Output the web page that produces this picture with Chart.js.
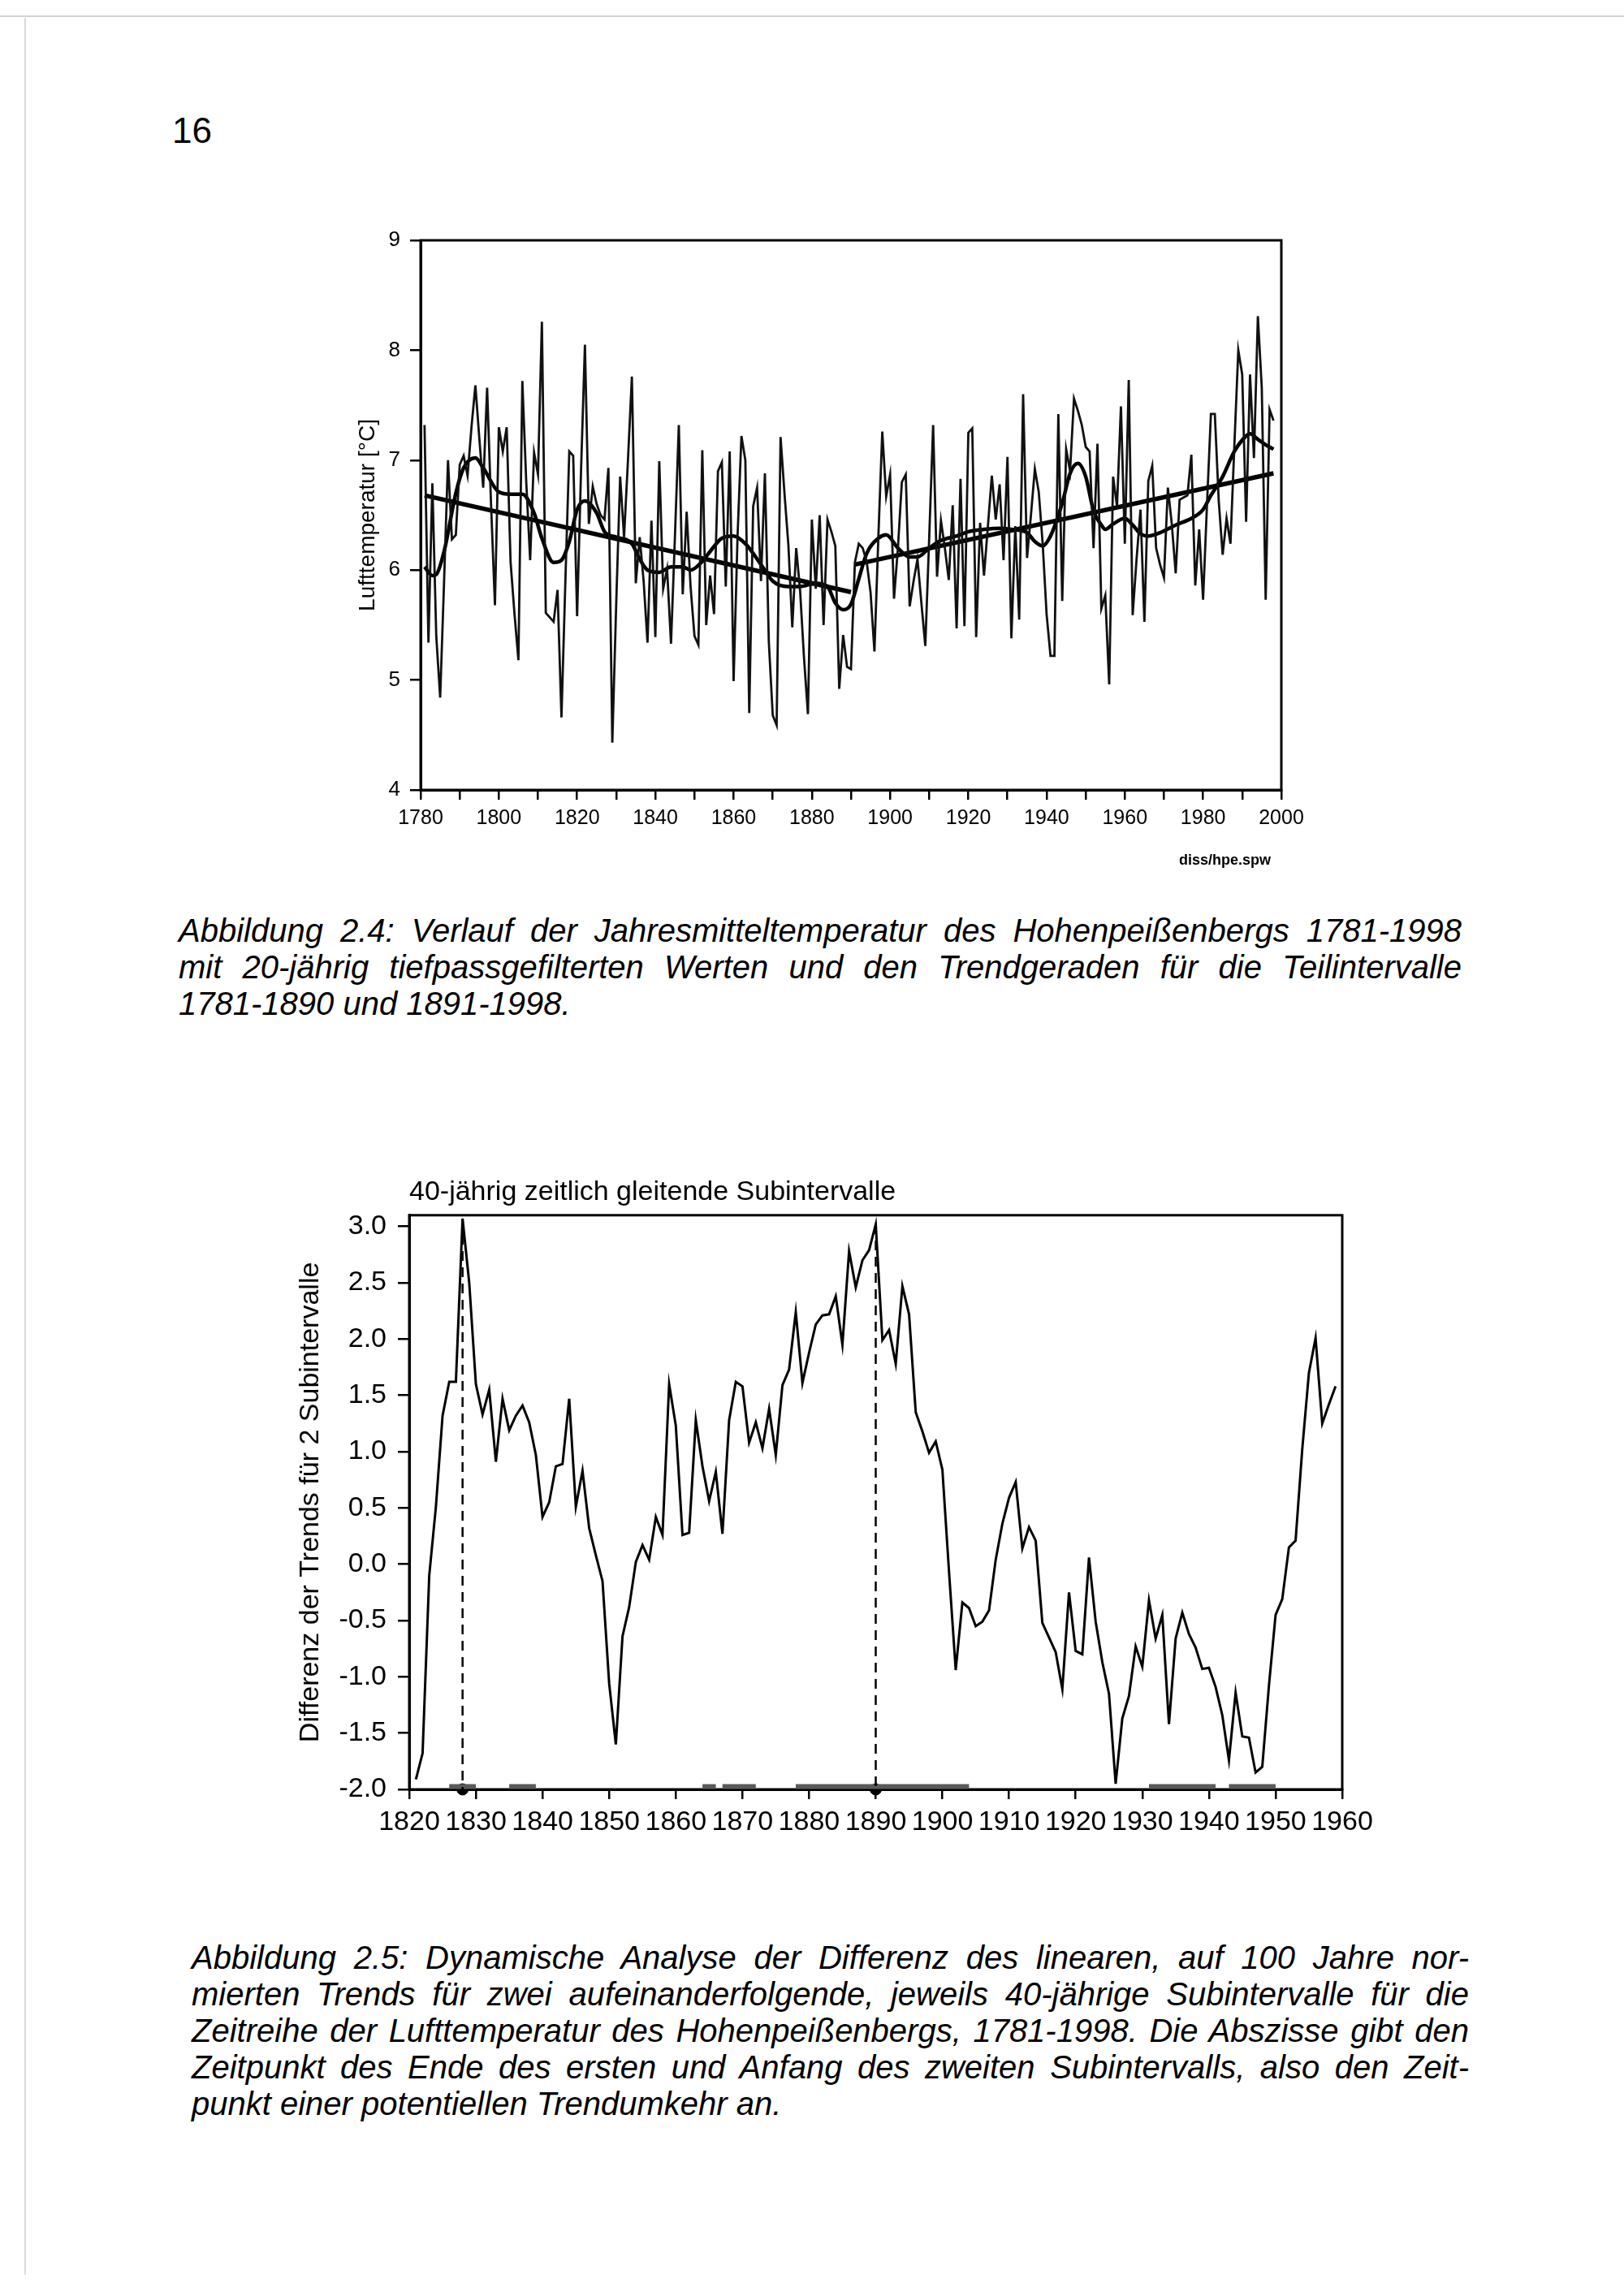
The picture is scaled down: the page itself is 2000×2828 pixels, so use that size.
<!DOCTYPE html>
<html lang="de">
<head>
<meta charset="utf-8">
<title>Hohenpeissenberg Lufttemperatur</title>
<script src="https://cdn.jsdelivr.net/npm/chart.js@4.4.1/dist/chart.umd.min.js"></script>
<style>
  html, body { margin: 0; padding: 0; background: #fff; }
  body { position: relative; width: 2000px; height: 2828px; overflow: hidden;
         font-family: "Liberation Sans", Arial, sans-serif; color: #000; }
  .edge-top { position: absolute; left: 0; top: 19px; width: 2000px; border-top: 2px solid #d2d2d2; }
  .edge-left { position: absolute; left: 30px; top: 22px; height: 2780px; border-left: 2px solid #dadada; }
  #pageno { position: absolute; left: 212px; top: 136px; font-size: 44px; }
  #chart1 { position: absolute; left: 300px; top: 250px; }
  #chart2 { position: absolute; left: 300px; top: 1420px; }
  #srcname { position: absolute; left: 1452px; top: 1049px; font-size: 18px; font-weight: bold; }
  .caption { position: absolute; font-size: 40px; font-style: italic; line-height: 45px; }
  .caption .ln { height: 45px; white-space: nowrap; }
</style>
</head>
<body>
<div class="edge-top"></div>
<div class="edge-left"></div>
<div id="pageno">16</div>

<canvas id="chart1" width="1330" height="850"></canvas>
<div id="srcname">diss/hpe.spw</div>
<div class="caption" style="left:220px; top:1124px; width:1580px;">
  <div class="ln"><span class="just">Abbildung 2.4: Verlauf der Jahresmitteltemperatur des Hohenpeißenbergs 1781-1998</span></div>
  <div class="ln"><span class="just">mit 20-jährig tiefpassgefilterten Werten und den Trendgeraden für die Teilintervalle</span></div>
  <div class="ln"><span>1781-1890 und 1891-1998.</span></div>
</div>

<canvas id="chart2" width="1400" height="900"></canvas>
<div class="caption" style="left:236px; top:2389px; width:1573px;">
  <div class="ln"><span class="just">Abbildung 2.5: Dynamische Analyse der Differenz des linearen, auf 100 Jahre nor-</span></div>
  <div class="ln"><span class="just">mierten Trends für zwei aufeinanderfolgende, jeweils 40-jährige Subintervalle für die</span></div>
  <div class="ln"><span class="just">Zeitreihe der Lufttemperatur des Hohenpeißenbergs, 1781-1998. Die Abszisse gibt den</span></div>
  <div class="ln"><span class="just">Zeitpunkt des Ende des ersten und Anfang des zweiten Subintervalls, also den Zeit-</span></div>
  <div class="ln"><span>punkt einer potentiellen Trendumkehr an.</span></div>
</div>

<script>
// Abb. 2.4 - Jahresmittel Lufttemperatur 1781-1998
var tempStartYear = 1781;
var tempVals = [
  7.32, 5.34, 6.79, 5.40, 4.84, 5.90, 7.00, 6.28, 6.32, 6.96,   // 1781-1790
  7.04, 6.86, 7.30, 7.68, 7.20, 6.75, 7.66, 6.60, 5.68, 7.30,   // 1791-1800
  7.08, 7.30, 6.07, 5.60, 5.18, 7.72, 6.80, 6.09, 7.07, 6.87,   // 1801-1810
  8.26, 5.61, 5.57, 5.53, 5.82, 4.66, 5.90, 7.08, 7.04, 5.58,   // 1811-1820
  6.90, 8.05, 6.42, 6.76, 6.60, 6.50, 6.46, 6.93, 4.43, 5.70,   // 1821-1830
  6.85, 6.30, 7.00, 7.76, 5.88, 6.30, 5.90, 5.34, 6.45, 5.39,   // 1831-1840
  6.99, 5.83, 6.01, 5.33, 6.30, 7.32, 5.78, 6.53, 5.85, 5.40,   // 1841-1850
  5.32, 7.09, 5.50, 5.95, 5.60, 6.90, 6.98, 5.85, 7.08, 4.99,   // 1851-1860
  6.30, 7.22, 7.00, 4.70, 6.58, 6.75, 5.90, 6.88, 5.35, 4.68,   // 1861-1870
  4.59, 7.21, 6.70, 6.23, 5.48, 6.20, 5.81, 5.20, 4.69, 6.46,   // 1871-1880
  5.83, 6.50, 5.50, 6.46, 6.35, 6.22, 4.92, 5.41, 5.12, 5.10,   // 1881-1890
  6.07, 6.24, 6.20, 6.08, 5.80, 5.26, 6.30, 7.26, 6.67, 6.87,   // 1891-1900
  5.74, 6.20, 6.80, 6.87, 5.67, 5.90, 6.10, 5.70, 5.31, 6.30,   // 1901-1910
  7.32, 5.94, 6.45, 6.20, 5.91, 6.59, 5.47, 6.83, 5.49, 7.25,   // 1911-1920
  7.29, 5.39, 6.43, 5.95, 6.40, 6.86, 6.46, 6.78, 6.09, 7.03,   // 1921-1930
  5.38, 6.40, 5.55, 7.60, 6.11, 6.50, 6.92, 6.71, 6.24, 5.60,   // 1931-1940
  5.22, 5.22, 7.42, 5.72, 7.10, 6.90, 7.56, 7.45, 7.32, 7.12,   // 1941-1950
  7.08, 6.20, 7.15, 5.65, 5.77, 4.96, 6.85, 6.58, 7.49, 6.24,   // 1951-1960
  7.73, 5.59, 6.10, 6.55, 5.53, 6.81, 6.95, 6.20, 6.05, 5.93,   // 1961-1970
  6.75, 6.42, 5.97, 6.64, 6.66, 6.68, 7.05, 5.86, 6.37, 5.73,   // 1971-1980
  6.60, 7.42, 7.42, 6.63, 6.14, 6.47, 6.24, 7.14, 8.00, 7.78,   // 1981-1990
  6.44, 7.78, 7.02, 8.31, 7.66, 5.73, 7.46, 7.36                // 1991-1998
];

var smoothYears = [1781, 1783, 1784, 1786, 1789, 1791, 1794, 1796, 1800, 1803, 1806, 1809,
  1811, 1814, 1816, 1818, 1820, 1822, 1825, 1827, 1830, 1834, 1836, 1838, 1841, 1844, 1847,
  1849, 1852, 1854, 1857, 1860, 1863, 1867, 1870, 1874, 1877, 1881, 1884, 1886, 1888, 1890,
  1892, 1894, 1897, 1899, 1902, 1905, 1907, 1910, 1913, 1917, 1920, 1924, 1928, 1931, 1935,
  1937, 1939, 1941, 1944, 1946, 1948, 1950, 1952, 1954, 1955, 1957, 1960, 1962, 1964, 1966,
  1969, 1973, 1977, 1980, 1982, 1985, 1988, 1991, 1992, 1994, 1996, 1998];
var smoothVals = [6.03, 5.95, 5.96, 6.17, 6.70, 6.93, 7.02, 6.93, 6.71, 6.69, 6.69, 6.52,
  6.29, 6.07, 6.09, 6.26, 6.55, 6.63, 6.52, 6.35, 6.30, 6.24, 6.10, 6.00, 5.98, 6.03, 6.03,
  6.00, 6.08, 6.17, 6.29, 6.31, 6.24, 6.05, 5.90, 5.85, 5.85, 5.88, 5.85, 5.70, 5.64, 5.69,
  5.92, 6.15, 6.29, 6.32, 6.20, 6.12, 6.12, 6.20, 6.27, 6.31, 6.35, 6.37, 6.38, 6.37, 6.34,
  6.26, 6.22, 6.31, 6.61, 6.88, 6.97, 6.85, 6.54, 6.41, 6.37, 6.42, 6.47, 6.41, 6.33, 6.31,
  6.34, 6.41, 6.47, 6.55, 6.68, 6.85, 7.08, 7.22, 7.24, 7.19, 7.14, 7.10];

// Trendgeraden 1781-1890 und 1891-1998
var trendYearsA = [1781, 1890];
var trendValsA = [6.68, 5.80];
var trendYearsB = [1891, 1998];
var trendValsB = [6.05, 6.88];

var tempYTicks = [4, 5, 6, 7, 8, 9];
var tempXTicks = [1780, 1790, 1800, 1810, 1820, 1830, 1840, 1850, 1860, 1870, 1880, 1890,
  1900, 1910, 1920, 1930, 1940, 1950, 1960, 1970, 1980, 1990, 2000];
var tempXLabels = [1780, 1800, 1820, 1840, 1860, 1880, 1900, 1920, 1940, 1960, 1980, 2000];

// Abb. 2.5 - Differenz der Trends fuer 2 Subintervalle (40-jaehrig gleitend)
var diffStartYear = 1821;
var diffVals = [
  -1.91, -1.68, -0.10, 0.51, 1.32, 1.62, 1.62, 3.07, 2.50, 1.60,     // 1821-1830
  1.33, 1.55, 0.91, 1.47, 1.19, 1.32, 1.41, 1.26, 0.97, 0.42,        // 1831-1840
  0.55, 0.87, 0.89, 1.47, 0.51, 0.83, 0.32, 0.08, -0.15, -1.06,      // 1841-1850
  -1.60, -0.64, -0.38, 0.02, 0.17, 0.04, 0.42, 0.26, 1.60, 1.23,     // 1851-1860
  0.26, 0.28, 1.28, 0.87, 0.56, 0.82, 0.27, 1.28, 1.62, 1.58,        // 1861-1870
  1.08, 1.26, 1.03, 1.38, 0.97, 1.59, 1.73, 2.24, 1.61, 1.88,        // 1871-1880
  2.13, 2.21, 2.22, 2.38, 1.95, 2.78, 2.46, 2.70, 2.79, 3.02,        // 1881-1890
  1.99, 2.08, 1.78, 2.47, 2.22, 1.35, 1.18, 0.99, 1.09, 0.84,        // 1891-1900
  -0.07, -0.94, -0.34, -0.39, -0.55, -0.51, -0.41, 0.04, 0.36, 0.59, // 1901-1910
  0.73, 0.14, 0.33, 0.21, -0.52, -0.65, -0.78, -1.11, -0.25, -0.77,  // 1911-1920
  -0.80, 0.06, -0.51, -0.87, -1.15, -1.95, -1.37, -1.17, -0.73, -0.91, // 1921-1930
  -0.32, -0.66, -0.45, -1.42, -0.66, -0.43, -0.62, -0.74, -0.93, -0.92, // 1931-1940
  -1.09, -1.34, -1.74, -1.14, -1.53, -1.54, -1.85, -1.80, -1.08, -0.45, // 1941-1950
  -0.31, 0.15, 0.21, 1.02, 1.70, 2.01, 1.25, 1.42, 1.58              // 1951-1959
];
var reversalYears = [1828, 1890];
var sigBands = [[1826, 1830], [1835, 1839], [1864, 1866], [1867, 1872],
  [1878, 1904], [1931, 1941], [1943, 1950]];
var diffYTicks = [-2.0, -1.5, -1.0, -0.5, 0.0, 0.5, 1.0, 1.5, 2.0, 2.5, 3.0];
var diffXTicks = [1820, 1830, 1840, 1850, 1860, 1870, 1880, 1890, 1900, 1910, 1920,
  1930, 1940, 1950, 1960];

Chart.defaults.font.family = '"Liberation Sans", Arial, sans-serif';
Chart.defaults.color = '#000';

// Hilfsfunktionen
var seriesPoints = function(startYear, vals) {
  return vals.map(function(v, i) { return {x: startYear + i, y: v}; });
};
var pairPoints = function(years, vals) {
  return years.map(function(yr, i) { return {x: yr, y: vals[i]}; });
};
var fixTicks = function(list) {
  return function(scale) {
    scale.ticks = list.map(function(v) { return {value: v}; });
  };
};

// Rahmen um die Zeichenflaeche
var framePlugin = {
  id: 'frame',
  beforeDatasetsDraw: function(chart, args, opts) {
    var a = chart.chartArea, c = chart.ctx;
    c.save();
    c.strokeStyle = '#000';
    c.lineWidth = opts.width;
    c.strokeRect(a.left, a.top, a.right - a.left, a.bottom - a.top);
    c.restore();
  }
};

var lineSet = function(data, width, extra) {
  var ds = {data: data, borderColor: '#000', borderWidth: width, pointRadius: 0,
    tension: 0, fill: false};
  for (var k in (extra || {})) ds[k] = extra[k];
  return ds;
};

// Abb. 2.4
var tempChart = new Chart(document.getElementById('chart1'), {
  type: 'line',
  data: {
    datasets: [
      lineSet(seriesPoints(tempStartYear, tempVals), 2.8, {borderColor: '#111'}),
      lineSet(pairPoints(smoothYears, smoothVals), 4.5, {cubicInterpolationMode: 'monotone'}),
      lineSet(pairPoints(trendYearsA, trendValsA), 5.5),
      lineSet(pairPoints(trendYearsB, trendValsB), 5.5)
    ]
  },
  options: {
    responsive: false, animation: false, devicePixelRatio: 1,
    layout: {padding: {left: 0, right: 52, top: 46, bottom: 67}},
    plugins: {legend: {display: false}, tooltip: {enabled: false}, frame: {width: 3}},
    scales: {
      x: {
        type: 'linear', min: 1780, max: 2000,
        afterBuildTicks: fixTicks(tempXTicks),
        afterFit: function(s) { s.height = 60; },
        border: {display: true, color: '#000', width: 3},
        grid: {drawOnChartArea: false, drawTicks: true, tickLength: 12, color: '#000', lineWidth: 2.5},
        ticks: {autoSkip: false, maxRotation: 0, padding: 8, font: {size: 25},
          callback: function(v) { return tempXLabels.indexOf(v) >= 0 ? String(v) : ''; }}
      },
      y: {
        type: 'linear', min: 4, max: 9,
        afterBuildTicks: fixTicks(tempYTicks),
        afterFit: function(s) { s.width = 218; },
        border: {display: true, color: '#000', width: 3},
        grid: {drawOnChartArea: false, drawTicks: true, tickLength: 13, color: '#000', lineWidth: 2.5},
        ticks: {padding: 12, font: {size: 26}},
        title: {display: true, text: 'Lufttemperatur [°C]', font: {size: 28},
          padding: {top: 136, bottom: 0}}
      }
    }
  },
  plugins: [framePlugin]
});

// Abb. 2.5
var diffSets = [lineSet(seriesPoints(diffStartYear, diffVals), 3)];
reversalYears.forEach(function(yr) {
  var peak = diffVals[yr - diffStartYear];
  diffSets.push(lineSet([{x: yr, y: peak}, {x: yr, y: diffYTicks[0]}], 2.5,
    {borderDash: [12, 8]}));
});
sigBands.forEach(function(b) {
  var yb = diffYTicks[0] + 0.025;
  diffSets.push(lineSet([{x: b[0], y: yb}, {x: b[1], y: yb}], 6,
    {borderColor: '#5a5a5a', borderCapStyle: 'butt', clip: false}));
});
diffSets.push({
  data: reversalYears.map(function(yr) { return {x: yr, y: diffYTicks[0]}; }),
  showLine: false, pointRadius: 7, pointBackgroundColor: '#000', pointBorderColor: '#000',
  clip: false
});

var diffChart = new Chart(document.getElementById('chart2'), {
  type: 'line',
  data: {datasets: diffSets},
  options: {
    responsive: false, animation: false, devicePixelRatio: 1,
    layout: {padding: {left: 0, right: 47, top: 28, bottom: 46}},
    plugins: {
      legend: {display: false}, tooltip: {enabled: false}, frame: {width: 3},
      title: {display: true, text: '40-jährig zeitlich gleitende Subintervalle',
        align: 'start', fullSize: false, color: '#000',
        font: {size: 34, weight: 'normal'}, padding: {top: 0, bottom: 8}}
    },
    scales: {
      x: {
        type: 'linear', min: 1820, max: 1960,
        afterBuildTicks: fixTicks(diffXTicks),
        afterFit: function(s) { s.height = 70; },
        border: {display: true, color: '#000', width: 3},
        grid: {drawOnChartArea: false, drawTicks: true, tickLength: 12, color: '#000', lineWidth: 2.5},
        ticks: {autoSkip: false, maxRotation: 0, padding: 8, font: {size: 34},
          callback: function(v) { return String(v); }}
      },
      y: {
        type: 'linear', min: -2, max: 3.1,
        afterBuildTicks: fixTicks(diffYTicks),
        afterFit: function(s) { s.width = 204; },
        border: {display: true, color: '#000', width: 3},
        grid: {drawOnChartArea: false, drawTicks: true, tickLength: 14, color: '#000', lineWidth: 2.5},
        ticks: {padding: 14, font: {size: 34},
          callback: function(v) { return Number(v).toFixed(1); }},
        title: {display: true, text: 'Differenz der Trends für 2 Subintervalle',
          font: {size: 34}, padding: {top: 62, bottom: 0}}
      }
    }
  },
  plugins: [framePlugin]
});

// Blocksatz fuer die Bildunterschriften
document.querySelectorAll('.caption').forEach(function(cap) {
  var full = parseFloat(cap.style.width);
  cap.querySelectorAll('.just').forEach(function(sp) {
    var gaps = sp.textContent.split(' ').length - 1;
    var extra = full - sp.getBoundingClientRect().width;
    if (gaps > 0 && extra > 0) sp.style.wordSpacing = (extra / gaps) + 'px';
  });
});
</script>
</body>
</html>
